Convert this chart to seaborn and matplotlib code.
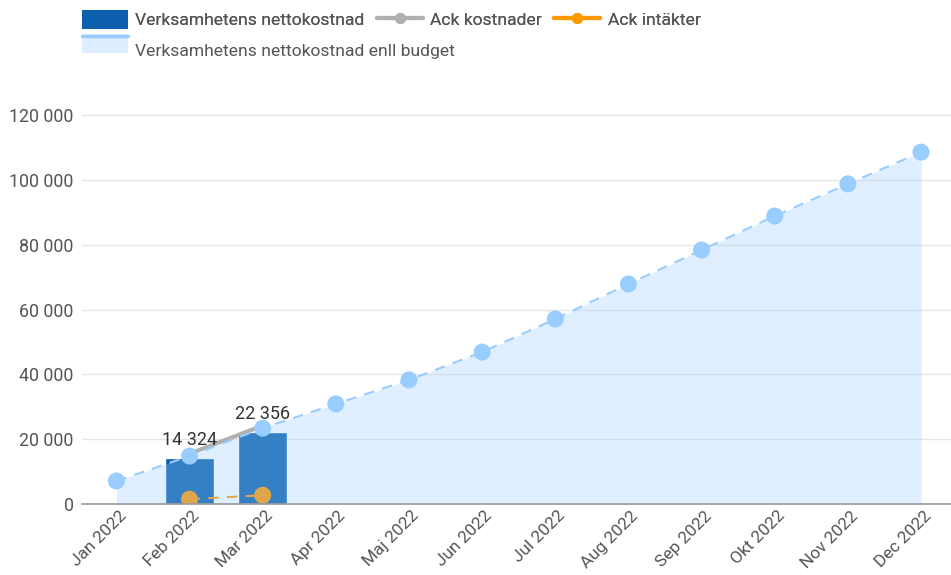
import numpy as np
import pandas as pd
import matplotlib
matplotlib.use("Agg")
import matplotlib.pyplot as plt
import seaborn as sns
from matplotlib.patches import Patch, Rectangle
from matplotlib.lines import Line2D
from matplotlib.ticker import FuncFormatter

months = ["Jan 2022", "Feb 2022", "Mar 2022", "Apr 2022", "Maj 2022", "Jun 2022",
          "Jul 2022", "Aug 2022", "Sep 2022", "Okt 2022", "Nov 2022", "Dec 2022"]
budget = [7100, 14800, 23400, 30900, 38300, 46900, 57100, 67900, 78400, 88900, 98800, 108600]
nettokostnad = [np.nan, 14324, 22356] + [np.nan] * 9
ack_kostnader = [np.nan, 15500, 24200] + [np.nan] * 9
ack_intakter = [np.nan, 1500, 2700] + [np.nan] * 9

df = pd.DataFrame({
    "month": months,
    "pos": np.arange(len(months)),
    "budget": budget,
    "netto": nettokostnad,
    "kost": ack_kostnader,
    "int": ack_intakter,
})

sns.set_theme(style="white")
plt.rcParams["font.family"] = ["Roboto", "DejaVu Sans"]

BAR = "#0b5fad"
BUDGET = "#99ccff"
GREY = "#b0b0b0"
ORANGE = "#ff9900"


class AreaHandler:
    # light fill with a thin line on top, like the budget legend key
    def legend_artist(self, legend, orig_handle, fontsize, handlebox):
        x0, y0 = handlebox.xdescent, handlebox.ydescent
        w, h = handlebox.width, handlebox.height
        rect = Rectangle((x0, y0), w, h, facecolor="#dceeff", edgecolor="none",
                         transform=handlebox.get_transform())
        top = Line2D([x0, x0 + w], [y0 + h - 1, y0 + h - 1], color=BUDGET, linewidth=2.5,
                     transform=handlebox.get_transform())
        handlebox.add_artist(rect)
        handlebox.add_artist(top)
        return rect


fig = plt.figure(figsize=(9.51, 5.75), dpi=100)
ax = fig.add_axes([82 / 951, 71 / 575, 1 - 82 / 951, 404 / 575])

# bars
sns.barplot(data=df, x="pos", y="netto", color=BAR, width=0.67, saturation=1,
            ax=ax, native_scale=True, zorder=2)

# grey cumulative cost line
sns.lineplot(data=df, x="pos", y="kost", color=GREY, linewidth=3, ax=ax, zorder=3)

# budget area on top of bars (transparent)
ax.fill_between(df["pos"], 0, df["budget"], color=BUDGET, alpha=0.3, linewidth=0, zorder=4)
sns.lineplot(data=df, x="pos", y="budget", color=BUDGET, linewidth=1.5, ax=ax,
             linestyle=(0, (5, 4)), zorder=5)
sns.scatterplot(data=df, x="pos", y="budget", color=BUDGET, s=150, edgecolor="none",
                ax=ax, zorder=6)

# orange cumulative income
sns.lineplot(data=df, x="pos", y="int", color="#e0a64c", linewidth=1.5,
             linestyle=(0, (5, 4)), ax=ax, zorder=6)
sns.scatterplot(data=df, x="pos", y="int", color="#e0a64c", s=150, edgecolor="none",
                ax=ax, zorder=7)

# bar labels
for p, v in zip(df["pos"], df["netto"]):
    if not np.isnan(v):
        ax.text(p, v + 2500, f"{int(v):,}".replace(",", " "), ha="center", va="bottom",
                fontsize=13, color="#333333", zorder=8)

ax.set_xlim(-0.47, 11.41)
ax.set_ylim(0, 124700)
ax.set_yticks(np.arange(0, 120001, 20000))
ax.yaxis.set_major_formatter(FuncFormatter(lambda v, _: f"{int(v):,}".replace(",", " ")))
# rotated labels sit a little right of each category centre
ax.set_xticks(df["pos"] + 0.03)
ax.set_xticklabels(months, rotation=45, ha="right", rotation_mode="anchor")
ax.tick_params(axis="both", labelsize=12.8, labelcolor="#555555", length=0)
ax.tick_params(axis="y", pad=6)
ax.tick_params(axis="x", pad=3, labelsize=12.4)
ax.grid(axis="y", color="#e6e6e6", linewidth=1, zorder=0)
ax.grid(axis="x", visible=False)
ax.set_axisbelow(True)
ax.set_xlabel("")
ax.set_ylabel("")
for s in ["top", "right", "left"]:
    ax.spines[s].set_visible(False)
ax.spines["bottom"].set_color("#999999")
ax.spines["bottom"].set_linewidth(1.2)
ax.spines["bottom"].set_zorder(9)

h1 = [Patch(facecolor=BAR, edgecolor="none"),
      Line2D([0], [0], color=GREY, linewidth=3, marker="o", markersize=7),
      Line2D([0], [0], color=ORANGE, linewidth=3, marker="o", markersize=7)]
l1 = ["Verksamhetens nettokostnad", "Ack kostnader", "Ack intäkter"]
leg1 = fig.legend(h1, l1, loc="upper left", bbox_to_anchor=(68 / 951, 1 + 4 / 575),
                  ncol=3, frameon=False, fontsize=12.6, handlelength=2.6, handleheight=1.25,
                  columnspacing=0.7, handletextpad=0.45, labelcolor="#555555",
                  borderpad=0.3)
fig.add_artist(leg1)

h2 = [Patch(facecolor="#dceeff", edgecolor="none")]
leg2 = fig.legend(h2, ["Verksamhetens nettokostnad enll budget"], loc="upper left",
                  bbox_to_anchor=(68 / 951, 1 - 27 / 575), frameon=False, fontsize=12.6,
                  handlelength=2.6, handleheight=1.25, handletextpad=0.45,
                  labelcolor="#555555", borderpad=0.3, handler_map={Patch: AreaHandler()})

fig.savefig("out.png", dpi=100)
